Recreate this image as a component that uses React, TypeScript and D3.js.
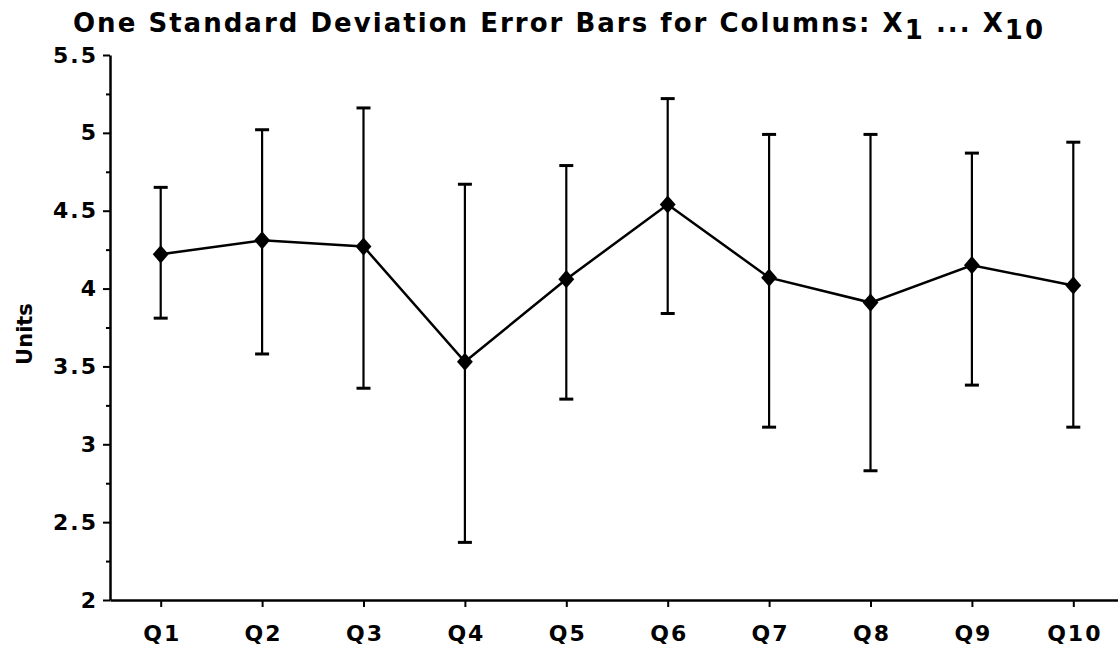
import React, { useEffect, useRef } from "react";
import * as d3 from "d3";

// Data
const categories = ["Q1", "Q2", "Q3", "Q4", "Q5", "Q6", "Q7", "Q8", "Q9", "Q10"];
const means = [4.22, 4.31, 4.27, 3.53, 4.06, 4.54, 4.07, 3.91, 4.15, 4.02];
const lower = [3.81, 3.58, 3.36, 2.37, 3.29, 3.84, 3.11, 2.83, 3.38, 3.11];
const upper = [4.65, 5.02, 5.16, 4.67, 4.79, 5.22, 4.99, 4.99, 4.87, 4.94];
const yTicks = [2, 2.5, 3, 3.5, 4, 4.5, 5, 5.5];
const yMinorTicks = [2.25, 2.75, 3.25, 3.75, 4.25, 4.75, 5.25];

const W = 1118;
const H = 647;
const FONT = "'DejaVu Sans', sans-serif";

const App = () => {
  const svgRef = useRef<SVGSVGElement>(null);

  useEffect(() => {
    const svg = d3.select(svgRef.current);
    svg.selectAll("*").remove();

    const x = d3.scalePoint<string>().domain(categories).range([110, 1124]).padding(0.5);
    const y = d3.scaleLinear().domain([2, 5.5]).range([600, 55]);

    const rows = categories.map((c, i) => ({ c, m: means[i], lo: lower[i], hi: upper[i] }));

    // Title
    const title = svg
      .append("text")
      .attr("x", W / 2)
      .attr("y", 32)
      .attr("text-anchor", "middle")
      .style("font-family", FONT)
      .style("font-weight", "bold")
      .style("font-size", "26px");
    title.append("tspan").text("One Standard Deviation Error Bars for Columns: X");
    title.append("tspan").attr("dy", 7).text("1");
    title.append("tspan").attr("dy", -7).text(" ... X");
    title.append("tspan").attr("dy", 7).text("10");
    // stretch title to the width seen in the reference
    const node = title.node() as SVGTextElement;
    const len = node.getComputedTextLength();
    const nChars = (node.textContent || "").length;
    title.style("letter-spacing", `${(972 - len) / nChars}px`);

    // Y axis
    const yAxis = svg
      .append("g")
      .attr("transform", "translate(110,0)")
      .call(
        d3
          .axisLeft(y)
          .tickValues(yTicks)
          .tickSize(7)
          .tickSizeOuter(0)
          .tickPadding(5)
          .tickFormat((d) => `${d}`)
      );
    yAxis.select(".domain").attr("stroke-width", 2.5);
    yAxis.selectAll(".tick line").attr("stroke-width", 2);
    yAxis
      .selectAll(".tick text")
      .style("font-family", FONT)
      .style("font-weight", "bold")
      .style("font-size", "22px")
      .style("letter-spacing", "2px")
      .attr("fill", "#000");

    svg
      .append("g")
      .attr("transform", "translate(110,0)")
      .call(d3.axisLeft(y).tickValues(yMinorTicks).tickSize(4).tickSizeOuter(0).tickFormat(() => ""))
      .call((g) => g.select(".domain").remove())
      .selectAll(".tick line")
      .attr("stroke-width", 2);

    // X axis
    const xAxis = svg
      .append("g")
      .attr("transform", "translate(0,600)")
      .call(d3.axisBottom(x).tickSize(7).tickSizeOuter(0).tickPadding(18));
    xAxis.select(".domain").attr("stroke-width", 2.5);
    xAxis.selectAll(".tick line").attr("stroke-width", 2);
    xAxis
      .selectAll(".tick text")
      .style("font-family", FONT)
      .style("font-weight", "bold")
      .style("font-size", "22px")
      .style("letter-spacing", "2px")
      .attr("dx", 1)
      .attr("fill", "#000");

    // Y label
    svg
      .append("text")
      .attr("transform", "translate(32,334) rotate(-90)")
      .attr("text-anchor", "middle")
      .style("font-family", FONT)
      .style("font-weight", "bold")
      .style("font-size", "21px")
      .text("Units");

    // Error bars
    const bars = svg.append("g").attr("stroke", "#000").attr("stroke-width", 2.2);
    bars
      .selectAll("line.v")
      .data(rows)
      .enter()
      .append("line")
      .attr("x1", (d) => x(d.c)!)
      .attr("x2", (d) => x(d.c)!)
      .attr("y1", (d) => y(d.lo))
      .attr("y2", (d) => y(d.hi));
    ["lo", "hi"].forEach((k) => {
      bars
        .selectAll(`line.${k}`)
        .data(rows)
        .enter()
        .append("line")
        .attr("x1", (d) => x(d.c)! - 7)
        .attr("x2", (d) => x(d.c)! + 7)
        .attr("y1", (d) => y(k === "lo" ? d.lo : d.hi))
        .attr("y2", (d) => y(k === "lo" ? d.lo : d.hi))
        .attr("stroke-width", 3);
    });

    // Mean line
    const line = d3
      .line<(typeof rows)[number]>()
      .x((d) => x(d.c)!)
      .y((d) => y(d.m));
    svg
      .append("path")
      .datum(rows)
      .attr("d", line)
      .attr("fill", "none")
      .attr("stroke", "#000")
      .attr("stroke-width", 2.5);

    // Diamond markers
    const diamond = d3.symbol().type(d3.symbolDiamond2).size(160);
    svg
      .selectAll("path.pt")
      .data(rows)
      .enter()
      .append("path")
      .attr("transform", (d) => `translate(${x(d.c)},${y(d.m)}) scale(1,1.15)`)
      .attr("d", diamond)
      .attr("fill", "#000");
  }, []);

  return (
    <svg
      ref={svgRef}
      width={W}
      height={H}
      style={{ position: "absolute", left: 0, top: 0, background: "#fff" }}
    />
  );
};

export default App;
